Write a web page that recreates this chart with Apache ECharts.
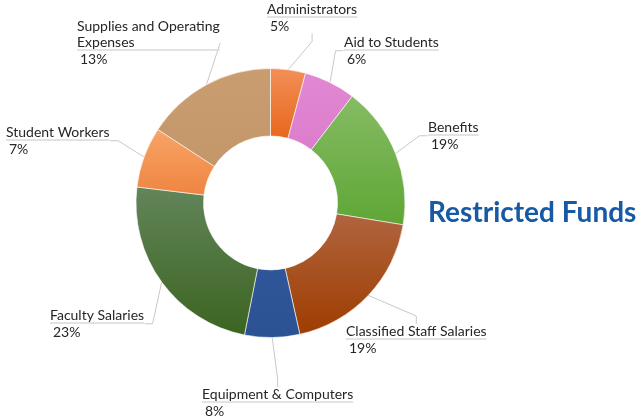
<!DOCTYPE html>
<html>
<head>
<meta charset="utf-8">
<script src="https://cdn.jsdelivr.net/npm/echarts@6/dist/echarts.min.js"></script>
<style>
html,body{margin:0;padding:0;background:#fff;}
#chart{width:639px;height:420px;}
</style>
</head>
<body>
<div id="chart"></div>
<script>
// Categories (clockwise from 12 o'clock)
var categories = ['Administrators', 'Aid to Students', 'Benefits', 'Classified Staff Salaries',
  'Equipment & Computers', 'Faculty Salaries', 'Student Workers', 'Supplies and Operating Expenses'];
// Slice shares as drawn (percent)
var values = [4.2, 6.2, 17.2, 18.9, 6.6, 23.8, 7.3, 15.8];
// Percentages printed on the labels
var shownPercent = ['5%', '6%', '19%', '19%', '8%', '23%', '7%', '13%'];
var titleText = 'Restricted Funds';

// Styling (top / bottom gradient colours per slice)
var sliceColors = [
  ['#F28F57', '#E8671C'],
  ['#E188D3', '#DC7DCC'],
  ['#85BC63', '#5FA636'],
  ['#B0643F', '#9E3D00'],
  ['#2F5698', '#2C5294'],
  ['#62855A', '#3C6420'],
  ['#F8A468', '#EE8540'],
  ['#C99D70', '#C4976A']
];
// Label placement (top-left of each label block)
var labelPos = [
  [267, 1], [344, 34], [428, 119], [346, 323],
  [202, 386], [50, 307], [6, 124], [77, 18]
];
var labelNames = categories.slice();
labelNames[7] = 'Supplies and Operating\nExpenses';

var chart = echarts.init(document.getElementById('chart'), null, {renderer: 'canvas'});

var data = categories.map(function (c, i) {
  return {
    name: c,
    value: values[i],
    itemStyle: {
      color: new echarts.graphic.LinearGradient(0, 0, 0, 1, [
        {offset: 0, color: sliceColors[i][0]},
        {offset: 1, color: sliceColors[i][1]}
      ])
    }
  };
});

var font = 'Lato, "Noto Sans", sans-serif';

chart.setOption({
  animation: false,
  title: {
    text: titleText,
    left: 423,
    top: 194,
    textStyle: {
      fontFamily: font,
      fontWeight: 'bold',
      fontSize: 28,
      color: '#1659A4'
    }
  },
  series: [{
    type: 'pie',
    center: [270.5, 203],
    radius: [67, 134.5],
    startAngle: 90,
    clockwise: true,
    avoidLabelOverlap: false,
    itemStyle: {borderColor: '#ffffff', borderWidth: 0.6},
    data: data,
    label: {
      show: true,
      position: 'outside',
      formatter: function (p) {
        var nm = labelNames[p.dataIndex];
        return '{n|' + nm.split('\n').join('}\n{n|') + '}\n{hr|}\n{p|' + shownPercent[p.dataIndex] + '}';
      },
      rich: {
        n: {fontFamily: font, fontSize: 14, color: '#262626', lineHeight: 16},
        hr: {borderColor: '#D9D9D9', width: '100%', borderWidth: 1, height: 0},
        p: {fontFamily: font, fontSize: 14, color: '#262626', lineHeight: 19, padding: [0, 0, 0, 3]}
      }
    },
    labelLine: {
      show: true,
      length: 12,
      length2: 8,
      lineStyle: {color: '#C8C8C8', width: 1}
    },
    labelLayout: function (params) {
      var pos = labelPos[params.dataIndex];
      return {x: pos[0], y: pos[1], align: 'left', verticalAlign: 'top'};
    }
  }]
});
</script>
</body>
</html>
